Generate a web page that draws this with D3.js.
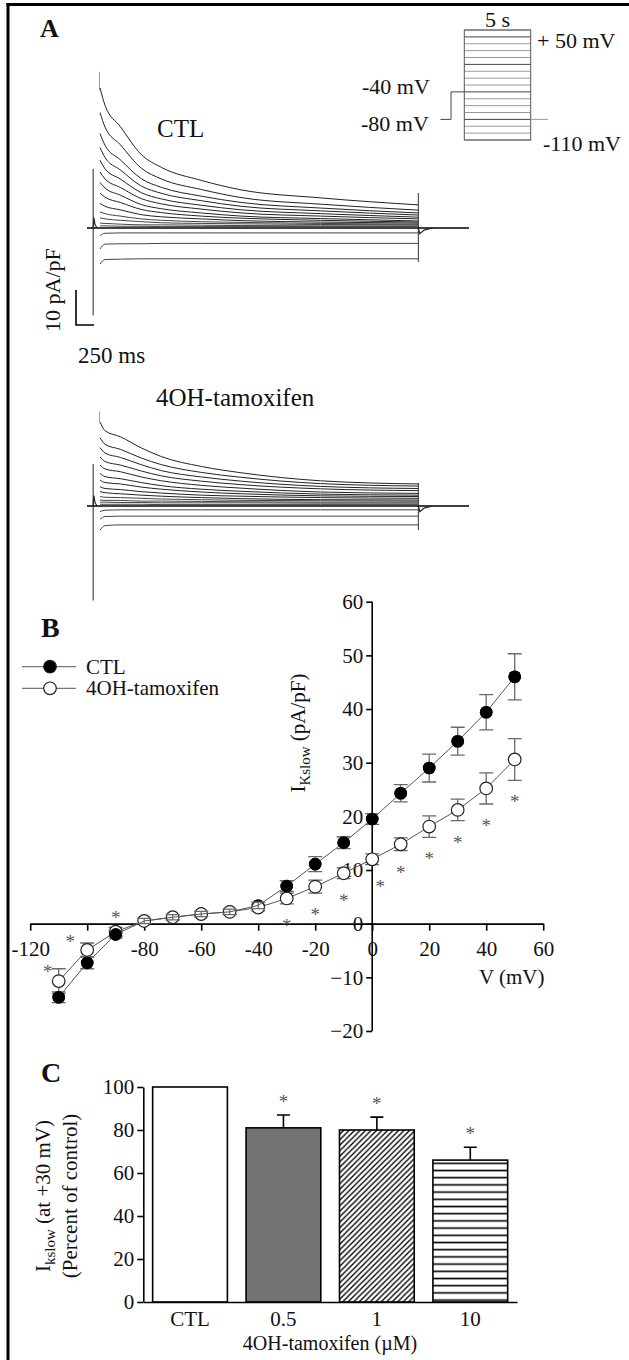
<!DOCTYPE html>
<html><head><meta charset="utf-8">
<script src="https://cdn.jsdelivr.net/npm/d3@7"></script>
<style>
body{margin:0;background:#fff}
svg text{font-family:"Liberation Serif","Times New Roman",serif;fill:#111}
</style>
</head><body>
<svg id="fig" width="629" height="1360"></svg>
<script>
// ================= DATA =================
// Panel A: step voltages (mV) and current traces (pA/pF) sampled at traceTimes (ms)
const stepVoltages = [50,40,30,20,10,0,-10,-20,-30,-40,-50,-60,-70,-80,-90,-100,-110];
const traceTimes = [0,70,280,570,850,1400,1950,3050,4400];
const ctlTraces = [
  [40,35.0,29.0,21.0,17.3,13.6,10.9,8.6,6.6],
  [33,28.8,23.8,17.1,14.0,11.0,8.7,6.8,5.1],
  [27,23.6,19.5,14.1,11.6,9.1,7.3,5.7,4.3],
  [23,20.1,16.6,12.0,9.9,7.8,6.2,4.9,3.7],
  [19.4,16.9,14.0,10.1,8.3,6.5,5.2,4.1,3.1],
  [16,14.0,11.6,8.4,6.9,5.4,4.3,3.4,2.6],
  [13,11.4,9.4,6.7,5.5,4.3,3.4,2.7,2.0],
  [10,8.8,7.3,5.3,4.4,3.4,2.8,2.2,1.7],
  [7,6.2,5.2,3.8,3.2,2.6,2.1,1.7,1.4],
  [4.6,4.1,3.4,2.6,2.2,1.8,1.6,1.3,1.1],
  [2.9,2.6,2.2,1.8,1.5,1.3,1.2,1.0,0.9],
  [1.4,1.3,1.1,0.9,0.9,0.8,0.7,0.6,0.6],
  [0.6,0.6,0.5,0.5,0.4,0.4,0.4,0.4,0.4],
  [0,0,0,0,0,0,0,0,0],
  [-2.2,-1.5,-1.4,-1.4,-1.4,-1.4,-1.4,-1.4,-1.4],
  [-6.0,-4.6,-4.5,-4.5,-4.4,-4.4,-4.4,-4.4,-4.4],
  [-10.3,-9.0,-8.9,-8.8,-8.8,-8.8,-8.8,-8.8,-8.8]
];
const tamTraces = [
  [24,21.5,19.8,16.6,14.1,11.3,9.5,7.2,6.3],
  [19.5,17.6,16.2,13.7,11.8,9.6,8.2,6.4,5.7],
  [16.7,15.1,13.9,11.8,10.1,8.3,7.1,5.6,5.0],
  [14,12.7,11.7,10.0,8.6,7.1,6.1,4.9,4.4],
  [11.7,10.6,9.8,8.3,7.2,5.9,5.1,4.0,3.6],
  [9.3,8.4,7.8,6.7,5.8,4.8,4.2,3.4,3.1],
  [7.4,6.7,6.3,5.4,4.8,4.0,3.5,2.9,2.7],
  [5.5,5.0,4.7,4.1,3.7,3.1,2.8,2.4,2.2],
  [4.1,3.8,3.5,3.1,2.8,2.4,2.1,1.8,1.7],
  [2.7,2.5,2.4,2.2,2.0,1.8,1.6,1.5,1.4],
  [1.7,1.6,1.6,1.4,1.4,1.3,1.2,1.1,1.1],
  [1.1,1.1,1.0,1.0,0.9,0.9,0.9,0.8,0.8],
  [0.5,0.5,0.5,0.5,0.4,0.4,0.4,0.4,0.4],
  [0,0,0,0,0,0,0,0,0],
  [-1.6,-1.2,-1.1,-1.1,-1.1,-1.1,-1.1,-1.1,-1.1],
  [-3.8,-3.0,-2.9,-2.9,-2.9,-2.9,-2.9,-2.9,-2.9],
  [-6.9,-5.6,-5.4,-5.4,-5.4,-5.4,-5.4,-5.4,-5.4]
];
// voltage protocol inset (ms, mV)
const protoTimes  = [-1800,-1000,0,5000,6300];
const protoHold = -80, protoPre = -40;

// Panel B: I-V relation
const ivVoltages = [-110,-100,-90,-80,-70,-60,-50,-40,-30,-20,-10,0,10,20,30,40,50];
const ctlMean = [-13.7,-7.3,-2.0,0.5,1.2,1.8,2.2,3.4,7.0,11.1,15.1,19.5,24.3,29.0,34.0,39.4,46.0];
const ctlSem  = [1.0,1.1,0.7,0.5,0.5,0.5,0.5,0.6,1.0,1.4,1.1,1.0,1.6,2.6,2.6,3.3,4.3];
const tamMean = [-10.7,-4.9,-1.5,0.5,1.2,1.8,2.2,3.0,4.7,6.9,9.4,12.0,14.8,18.1,21.2,25.2,30.6];
const tamSem  = [2.3,1.3,0.8,0.5,0.5,0.5,0.5,0.6,1.0,1.2,1.0,1.0,1.2,2.0,2.0,2.9,3.9];
const sigVoltages = [-110,-100,-90,-30,-20,-10,0,10,20,30,40,50];
const sigPlacement = ["leftlow","left","above","below","below","below","below","below","below","below","below","below"];
const xTicksB = [-120,-100,-80,-60,-40,-20,0,20,40,60];
const xTickLabelsB = ["-120","","-80","-60","-40","-20","0","20","40","60"];
const yTicksB = [-20,-10,0,10,20,30,40,50,60];

// Panel C: bars
const barCategories = ["CTL","0.5","1","10"];
const barValues = [100,81,80,66];
const barSem = [0,6,6,6];
const barSig = [false,true,true,true];
const yTicksC = [0,20,40,60,80,100];

// ================= DRAW =================
const svg = d3.select("#fig");
const defs = svg.append("defs");
defs.append("pattern").attr("id","diag").attr("patternUnits","userSpaceOnUse")
  .attr("width",5.5).attr("height",5.5)
  .append("path").attr("d","M-1,1 l2,-2 M0,5.5 l5.5,-5.5 M4.5,6.5 l2,-2")
  .attr("stroke","#000").attr("stroke-width",1.3);
const hp = defs.append("pattern").attr("id","horiz").attr("patternUnits","userSpaceOnUse")
  .attr("width",10).attr("height",7.2);
hp.append("rect").attr("width",10).attr("height",7.2).attr("fill","#fff");
hp.append("line").attr("x1",0).attr("x2",10).attr("y1",4.1).attr("y2",4.1)
  .attr("stroke","#000").attr("stroke-width",1.6);

// frame
svg.append("line").attr("x1",8).attr("x2",8).attr("y1",3).attr("y2",1360).attr("stroke","#000").attr("stroke-width",3);
svg.append("line").attr("x1",6.5).attr("x2",629).attr("y1",4.5).attr("y2",4.5).attr("stroke","#000").attr("stroke-width",3);

// panel letters
svg.append("text").attr("x",40).attr("y",37).attr("font-size",26).attr("font-weight","bold").text("A");
svg.append("text").attr("x",41).attr("y",637).attr("font-size",28).attr("font-weight","bold").text("B");
svg.append("text").attr("x",41).attr("y",1082).attr("font-size",28).attr("font-weight","bold").text("C");

// ---------- Panel A ----------
const tA = d3.scaleLinear().domain([-180,5100]).range([87,469]);
const yA1 = d3.scaleLinear().domain([0,10]).range([228,193]);
const yA2 = d3.scaleLinear().domain([0,10]).range([506,471]);

function drawTraces(set, yS, stepTop, stepBot, spikeTop, spikeBot, endTop, endBot){
  const g = svg.append("g");
  g.append("line").attr("x1",tA(-95)).attr("x2",tA(-95)).attr("y1",yS(stepTop)).attr("y2",yS(stepBot))
    .attr("stroke","#222").attr("stroke-width",1);
  g.append("line").attr("x1",tA(-8)).attr("x2",tA(-8)).attr("y1",yS(spikeTop)).attr("y2",yS(spikeBot))
    .attr("stroke","#999").attr("stroke-width",1);
  g.append("line").attr("x1",tA(4400)).attr("x2",tA(4400)).attr("y1",yS(endTop)).attr("y2",yS(endBot))
    .attr("stroke","#333").attr("stroke-width",1);
  g.append("line").attr("x1",tA(-180)).attr("x2",tA(5100)).attr("y1",yS(0)).attr("y2",yS(0))
    .attr("stroke","#000").attr("stroke-width",1.6);
  const line = d3.line().x((d,i)=>tA(traceTimes[i])).y(d=>yS(d)).curve(d3.curveMonotoneX);
  set.forEach((tr,k)=>{
    g.append("path").attr("d",line(tr)).attr("fill","none")
      .attr("stroke", k<9 ? "#222" : "#444").attr("stroke-width",1);
  });
  g.append("path").attr("d",d3.line().x(d=>tA(d[0])).y(d=>yS(d[1]))([[-95,0],[-85,3],[-70,1],[-40,0]]))
    .attr("fill","none").attr("stroke","#222").attr("stroke-width",1.2);
  g.append("path").attr("d",d3.line().x(d=>tA(d[0])).y(d=>yS(d[1]))([[4400,0],[4420,-1.6],[4480,-0.6],[4600,0]]))
    .attr("fill","none").attr("stroke","#222").attr("stroke-width",1.2);
}
drawTraces(ctlTraces, yA1, 16.9, -25, 44.6, 39.4, 10, -9.7);
drawTraces(tamTraces, yA2, 12, -27, 27, 24, 6.6, -6.9);

svg.append("text").attr("x",157).attr("y",137).attr("font-size",25).text("CTL");
svg.append("text").attr("x",156).attr("y",406).attr("font-size",25).text("4OH-tamoxifen");

// scale bar
const sbT = -332, sbI = -27.7;
svg.append("path").attr("d",`M${tA(sbT)},${yA1(sbI+10)} L${tA(sbT)},${yA1(sbI)} L${tA(sbT+250)},${yA1(sbI)}`)
  .attr("fill","none").attr("stroke","#000").attr("stroke-width",1.6);
svg.append("text").attr("transform","translate(60,290) rotate(-90)").attr("text-anchor","middle")
  .attr("font-size",22).text("10 pA/pF");
svg.append("text").attr("x",78).attr("y",363).attr("font-size",23).text("250 ms");

// voltage protocol inset
const tP = d3.scaleLinear().domain([0,5000]).range([464.3,530.7]);
const vP = d3.scaleLinear().domain([-110,50]).range([140,30]);
const inset = svg.append("g");
stepVoltages.forEach((v,i)=>{
  inset.append("line").attr("x1",tP(0)).attr("x2",tP(5000)).attr("y1",vP(v)).attr("y2",vP(v))
    .attr("stroke", i%4===1 ? "#444" : "#9a9a9a").attr("stroke-width",1);
});
inset.append("rect").attr("x",tP(0)).attr("y",vP(50)).attr("width",tP(5000)-tP(0)).attr("height",vP(-110)-vP(50))
  .attr("fill","none").attr("stroke","#555").attr("stroke-width",1);
inset.append("path").attr("d",
  `M${tP(protoTimes[0])},${vP(protoHold)} L${tP(protoTimes[1])},${vP(protoHold)} L${tP(protoTimes[1])},${vP(protoPre)} L${tP(protoTimes[2])},${vP(protoPre)}`)
  .attr("fill","none").attr("stroke","#444").attr("stroke-width",1);
inset.append("line").attr("x1",tP(protoTimes[3])).attr("x2",tP(protoTimes[4])).attr("y1",vP(protoHold)).attr("y2",vP(protoHold))
  .attr("stroke","#999").attr("stroke-width",1);
inset.append("text").attr("x",497.5).attr("y",27).attr("text-anchor","middle").attr("font-size",22).text("5 s");
inset.append("text").attr("x",537).attr("y",48).attr("font-size",22).text("+ 50 mV");
inset.append("text").attr("x",362).attr("y",94).attr("font-size",22).text("-40 mV");
inset.append("text").attr("x",361).attr("y",131).attr("font-size",22).text("-80 mV");
inset.append("text").attr("x",543).attr("y",151).attr("font-size",22).text("-110 mV");

// ---------- Panel B ----------
const xB = d3.scaleLinear().domain([-120,60]).range([30.2,543.2]);
const yB = d3.scaleLinear().domain([-20,60]).range([1031,601.7]);
const gB = svg.append("g");
const xAxB = gB.append("g").attr("transform",`translate(0,${yB(0)})`)
  .call(d3.axisBottom(xB).tickValues(xTicksB).tickSize(7).tickSizeOuter(0).tickPadding(10)
    .tickFormat(d=>xTickLabelsB[xTicksB.indexOf(d)]));
const yAxB = gB.append("g").attr("transform",`translate(${xB(0)},0)`)
  .call(d3.axisLeft(yB).tickValues(yTicksB).tickSize(6).tickSizeOuter(0).tickPadding(3).tickFormat(d3.format("d")));
[xAxB,yAxB].forEach(a=>{
  a.selectAll("path,line").attr("stroke","#000").attr("stroke-width",1.6);
  a.selectAll("text").attr("font-size",21).attr("font-family","Liberation Serif, Times New Roman, serif").attr("fill","#111");
});
yAxB.select(".domain").attr("d",`M0,${yB(-20)}V${yB(60)}`);

const ptsC = ivVoltages.map((v,i)=>({v,m:ctlMean[i],s:ctlSem[i]}));
const ptsT = ivVoltages.map((v,i)=>({v,m:tamMean[i],s:tamSem[i]}));
const lineB = d3.line().x(d=>xB(d.v)).y(d=>yB(d.m));
function errBars(g, pts){
  pts.forEach(d=>{
    const x=xB(d.v);
    g.append("path").attr("d",`M${x},${yB(d.m-d.s)}V${yB(d.m+d.s)} M${x-7},${yB(d.m+d.s)}h14 M${x-7},${yB(d.m-d.s)}h14`)
      .attr("fill","none").attr("stroke","#6a6a6a").attr("stroke-width",1.3);
  });
}
errBars(gB, ptsT);
gB.append("path").attr("d",lineB(ptsT)).attr("fill","none").attr("stroke","#555").attr("stroke-width",1);
gB.selectAll(".cf").data(ptsC).join("circle").attr("cx",d=>xB(d.v)).attr("cy",d=>yB(d.m)).attr("r",6.3).attr("fill","#000");
gB.selectAll(".co").data(ptsT).join("circle").attr("cx",d=>xB(d.v)).attr("cy",d=>yB(d.m)).attr("r",6.3)
  .attr("fill","#fff").attr("stroke","#222").attr("stroke-width",1.2);
gB.append("path").attr("d",lineB(ptsC)).attr("fill","none").attr("stroke","#555").attr("stroke-width",1);
errBars(gB, ptsC);
gB.selectAll(".cf2").data(ptsC.filter(d=>d.v>-40 || d.v<-80)).join("circle").attr("cx",d=>xB(d.v)).attr("cy",d=>yB(d.m)).attr("r",6.3).attr("fill","#000");

// significance asterisks
sigVoltages.forEach((v,k)=>{
  const i = ivVoltages.indexOf(v);
  let x = xB(v), y;
  const p = sigPlacement[k];
  if(p==="below"){ y = yB(tamMean[i]-tamSem[i]) + 19; if(v===0) x += 8; }
  else if(p==="above"){ y = yB(Math.max(ctlMean[i],tamMean[i])+tamSem[i]) - 12; }
  else if(p==="leftlow"){ x -= 11; y = yB(tamMean[i]+tamSem[i]); }
  else { x -= 17; y = yB(tamMean[i]+tamSem[i]) - 4; }
  gB.append("text").attr("x",x).attr("y",y+9).attr("text-anchor","middle").attr("font-size",19)
    .style("fill","#555").text("*");
});

// axis titles B
svg.append("text").attr("x",479).attr("y",984).attr("font-size",21).text("V (mV)");
const yl = svg.append("text").attr("transform","translate(305,733) rotate(-90)").attr("text-anchor","middle").attr("font-size",21);
yl.append("tspan").text("I");
yl.append("tspan").attr("dy",5).attr("font-size",15).text("Kslow");
yl.append("tspan").attr("dy",-5).text(" (pA/pF)");

// legend B
const legY = [666.7, 688.3];
["CTL","4OH-tamoxifen"].forEach((lab,i)=>{
  svg.append("line").attr("x1",22).attr("x2",76).attr("y1",legY[i]).attr("y2",legY[i]).attr("stroke","#555").attr("stroke-width",1);
  svg.append("circle").attr("cx",50).attr("cy",legY[i]).attr("r",6.3)
    .attr("fill", i===0 ? "#000" : "#fff").attr("stroke","#222").attr("stroke-width",1.2);
  svg.append("text").attr("x",86).attr("y",legY[i]+7).attr("font-size",21).text(lab);
});

// ---------- Panel C ----------
const xC = d3.scaleBand().domain(barCategories).range([143.3,517]).paddingInner(0.2).paddingOuter(0.1);
const yC = d3.scaleLinear().domain([0,100]).range([1302,1087]);
const gC = svg.append("g");
const fills = ["#fff","#737373","url(#diag)","url(#horiz)"];
gC.selectAll("rect.bar").data(barCategories).join("rect").attr("class","bar")
  .attr("x",d=>xC(d)).attr("y",(d,i)=>yC(barValues[i])).attr("width",xC.bandwidth())
  .attr("height",(d,i)=>yC(0)-yC(barValues[i])).attr("fill",(d,i)=>fills[i])
  .attr("stroke","#000").attr("stroke-width",1.6);
barCategories.forEach((c,i)=>{
  const x = xC(c)+xC.bandwidth()/2;
  if(barSem[i]>0){
    gC.append("path").attr("d",`M${x},${yC(barValues[i])}V${yC(barValues[i]+barSem[i])} M${x-6.5},${yC(barValues[i]+barSem[i])}h13`)
      .attr("fill","none").attr("stroke","#000").attr("stroke-width",1.6);
  }
  if(barSig[i]){
    gC.append("text").attr("x",x).attr("y",yC(barValues[i]+barSem[i])-16+9).attr("text-anchor","middle")
      .attr("font-size",19).style("fill","#555").text("*");
  }
});
const xAxC = gC.append("g").attr("transform",`translate(0,${yC(0)})`)
  .call(d3.axisBottom(xC).tickSize(0).tickSizeOuter(0).tickPadding(9));
const yAxC = gC.append("g").attr("transform","translate(143.3,0)")
  .call(d3.axisLeft(yC).tickValues(yTicksC).tickSize(6).tickSizeOuter(0).tickPadding(3));
[xAxC,yAxC].forEach(a=>{
  a.selectAll("path,line").attr("stroke","#000").attr("stroke-width",1.6);
  a.selectAll("text").attr("font-size",21).attr("font-family","Liberation Serif, Times New Roman, serif").attr("fill","#111");
});
svg.append("text").attr("x",330).attr("y",1350).attr("text-anchor","middle").attr("font-size",20).text("4OH-tamoxifen (\u00b5M)");
const yc1 = svg.append("text").attr("transform","translate(50,1196) rotate(-90)").attr("text-anchor","middle").attr("font-size",21);
yc1.append("tspan").text("I");
yc1.append("tspan").attr("dy",5).attr("font-size",15).text("kslow");
yc1.append("tspan").attr("dy",-5).text(" (at +30 mV)");
svg.append("text").attr("transform","translate(77,1196) rotate(-90)").attr("text-anchor","middle").attr("font-size",21).text("(Percent of control)");
</script>
</body></html>
